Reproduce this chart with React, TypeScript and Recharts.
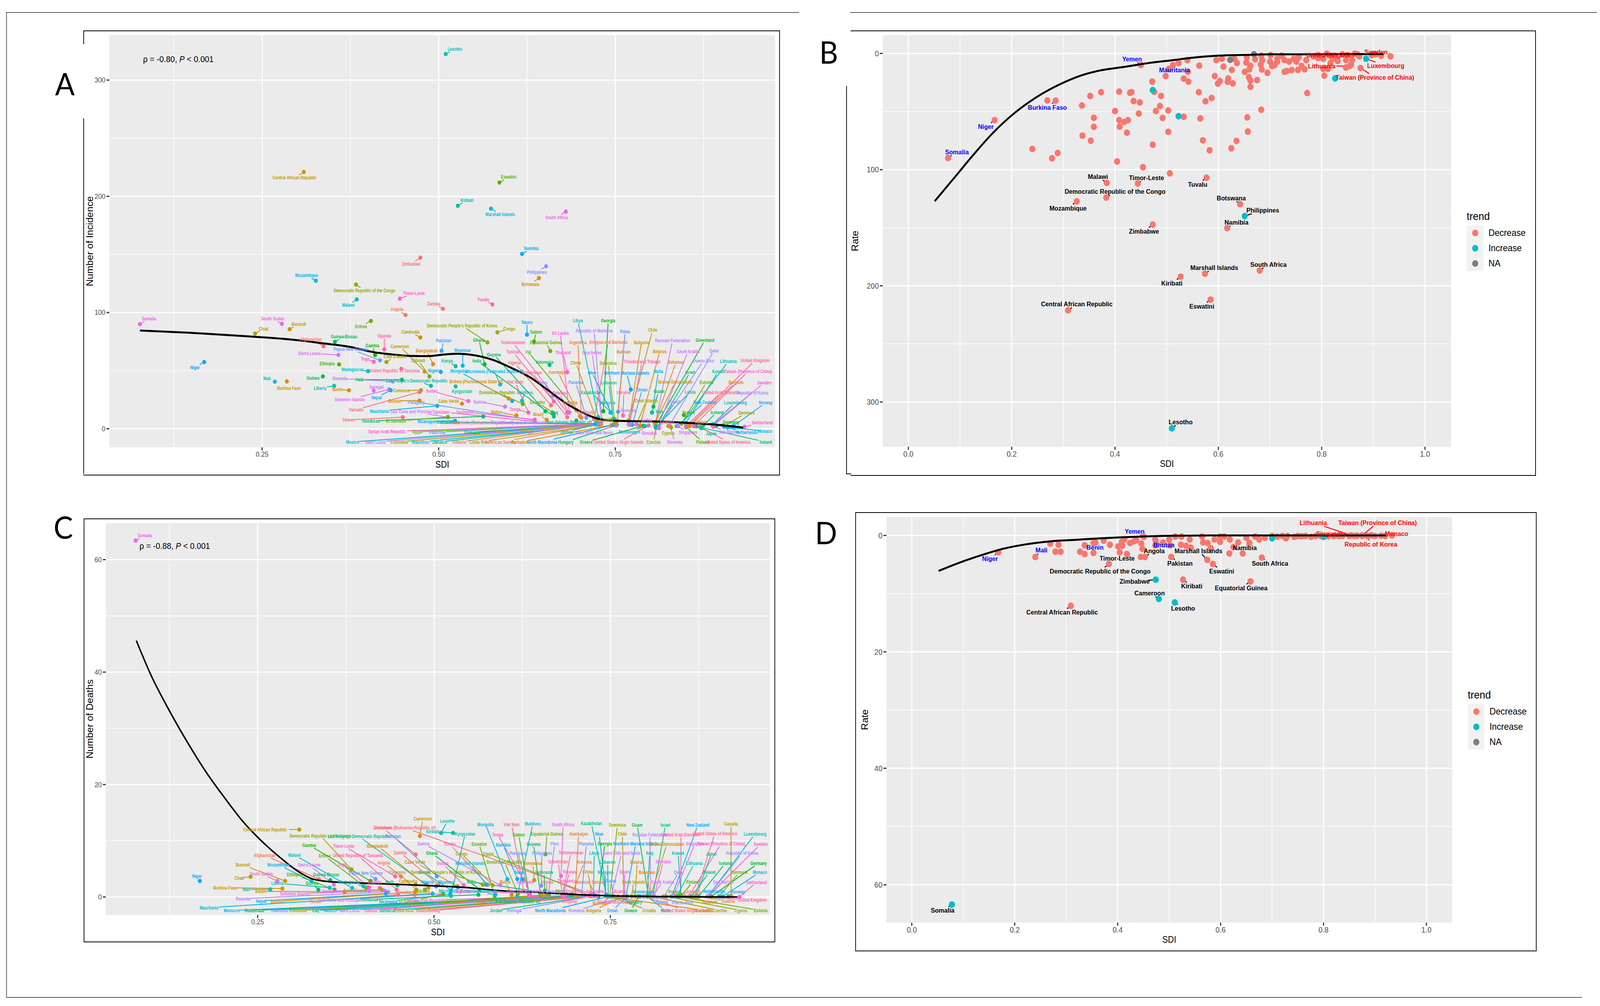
import React from "react";
import { ScatterChart, Scatter, XAxis, YAxis, CartesianGrid, ReferenceLine } from "recharts";

// name, sdi, incidence, label sdi, label value
const INCIDENCE_ROWS: [string, number, number, number, number][] = [
  ["Lesotho", 0.51, 322.4, 0.523, 326.7], ["Central African Republic", 0.309, 221, 0.296, 216], ["Eswatini", 0.586, 211.9, 0.599, 216.7],
  ["Kiribati", 0.527, 191.9, 0.54, 196.7], ["Marshall Islands", 0.574, 189.4, 0.587, 184.6], ["South Africa", 0.68, 186.9, 0.667, 181.8],
  ["Namibia", 0.618, 150.4, 0.631, 155.2], ["Philippines", 0.652, 139.8, 0.639, 134.8], ["Botswana", 0.642, 129.7, 0.63, 124.4],
  ["Zimbabwe", 0.474, 147.2, 0.461, 141.8], ["Mozambique", 0.326, 127.4, 0.313, 132], ["Democratic Republic of the Congo", 0.383, 124.1, 0.395, 119],
  ["Timor-Leste", 0.445, 112, 0.465, 116.6], ["Malawi", 0.384, 111.3, 0.372, 106.4], ["Zambia", 0.506, 103.2, 0.493, 107.7],
  ["Tuvalu", 0.576, 107, 0.563, 111.3], ["Angola", 0.453, 97.9, 0.441, 102.7], ["Somalia", 0.077, 90, 0.09, 94.8],
  ["South Sudan", 0.278, 90.3, 0.265, 94.8], ["Burundi", 0.289, 85.7, 0.302, 90], ["Chad", 0.24, 81.9, 0.252, 86.2],
  ["Eritrea", 0.404, 92.8, 0.39, 88], ["Guinea-Bissau", 0.353, 74.8, 0.366, 79.4], ["Afghanistan", 0.337, 71, 0.319, 77],
  ["Uganda", 0.423, 68.3, 0.423, 79.9], ["Cambodia", 0.474, 78.6, 0.46, 83.4], ["Gambia", 0.41, 63.5, 0.406, 71.6],
  ["Papua New Guinea", 0.417, 58.9, 0.375, 68.5], ["Sierra Leone", 0.358, 63.5, 0.317, 65], ["Togo", 0.408, 57.6, 0.396, 60.2],
  ["Cote d'Ivoire", 0.426, 57.4, 0.438, 62.2], ["Cameroon", 0.48, 49.3, 0.445, 71], ["Djibouti", 0.487, 45, 0.471, 58.9],
  ["Bangladesh", 0.492, 55.6, 0.483, 67.3], ["Ethiopia", 0.359, 55.4, 0.342, 56.1], ["Madagascar", 0.4, 49.6, 0.378, 51],
  ["United Republic of Tanzania", 0.447, 51.6, 0.438, 50], ["Niger", 0.168, 57.4, 0.155, 52.8], ["Mali", 0.268, 40.5, 0.257, 43.5],
  ["Burkina Faso", 0.285, 40.7, 0.288, 35.1], ["Guinea", 0.336, 45, 0.322, 43.7], ["Liberia", 0.352, 36.9, 0.332, 35.1],
  ["Benin", 0.373, 33.1, 0.357, 33.9], ["Rwanda", 0.435, 40.7, 0.36, 43.2], ["Haiti", 0.448, 42.2, 0.388, 42.2],
  ["Lao People's Democratic Republic", 0.489, 36.9, 0.469, 41.5], ["Senegal", 0.408, 32.9, 0.412, 35.9], ["Solomon Islands", 0.43, 33.9, 0.374, 25.3],
  ["Nepal", 0.432, 33.1, 0.412, 27], ["Comoros", 0.475, 33.1, 0.447, 32.9], ["Vanuatu", 0.473, 31.6, 0.383, 16.4],
  ["Bhutan", 0.473, 24.3, 0.438, 24], ["Paraguay", 0.636, 7.3, 0.468, 23], ["Mauritania", 0.498, 19.7, 0.416, 15.2],
  ["Sao Tome and Principe", 0.513, 9.9, 0.461, 14.9], ["Yemen", 0.449, 9.9, 0.372, 7.6], ["Honduras", 0.563, 10.6, 0.404, 6.6],
  ["El Salvador", 0.513, 10.1, 0.44, 6.6], ["Nicaragua", 0.523, 6.8, 0.483, 6.3], ["Guatemala", 0.724, 4.3, 0.516, 5.6],
  ["Syrian Arab Republic", 0.724, 4.3, 0.427, -2.5], ["Egypt", 0.722, 3.8, 0.47, -2.5], ["Palestine", 0.725, 4.6, 0.498, -3],
  ["Grenada", 0.726, 4, 0.547, -3], ["Turkey", 0.728, 5, 0.587, -2.5], ["Mexico", 0.722, 3.8, 0.378, -11.4],
  ["Saint Lucia", 0.723, 4, 0.41, -11.4], ["Colombia", 0.724, 4.2, 0.444, -11.4], ["Mauritius", 0.725, 3.6, 0.474, -11.4],
  ["Jamaica", 0.726, 4, 0.501, -11.4], ["Albania", 0.727, 4.4, 0.529, -11.4], ["Costa Rica", 0.728, 3.6, 0.557, -11.4],
  ["American Samoa", 0.73, 4, 0.587, -11.4], ["Barbados", 0.745, 3.2, 0.615, -11.4], ["North Macedonia", 0.748, 3.4, 0.646, -11.4],
  ["Hungary", 0.752, 3.2, 0.68, -11.4], ["Greece", 0.79, 2.6, 0.709, -11.4], ["United States Virgin Islands", 0.797, 2.8, 0.755, -11.4],
  ["Czechia", 0.808, 1, 0.804, -11.4], ["Slovenia", 0.828, 2, 0.834, -11.4], ["Finland", 0.85, 1.5, 0.874, -11.4],
  ["United States of America", 0.87, 1.5, 0.91, -11.4], ["Ireland", 0.865, 2, 0.963, -11.4],
  ["Democratic People's Republic of Korea", 0.569, 74.3, 0.533, 88.7], ["Congo", 0.583, 83, 0.6, 85.9], ["Nauru", 0.625, 81, 0.625, 91.9],
  ["Gabon", 0.635, 75, 0.638, 83.2], ["Equatorial Guinea", 0.658, 66.9, 0.652, 74.2], ["Ghana", 0.565, 55.5, 0.557, 76.4],
  ["Guyana", 0.651, 15.1, 0.578, 63.9], ["India", 0.663, 10.6, 0.554, 58.6], ["Kenya", 0.524, 53.8, 0.512, 58.5],
  ["Mongolia", 0.604, 23.9, 0.528, 49.6], ["Myanmar", 0.534, 54.3, 0.534, 67.6], ["Micronesia (Federated States of)", 0.587, 38.1, 0.579, 49.3],
  ["Nigeria", 0.503, 48.9, 0.494, 50], ["Pakistan", 0.504, 67.1, 0.507, 75.9], ["Bolivia (Plurinational State of)", 0.599, 26, 0.553, 40.7],
  ["Kyrgyzstan", 0.524, 36.4, 0.533, 32.2], ["Dominican Republic", 0.619, 21.3, 0.583, 31.4], ["Maldives", 0.618, 24.1, 0.622, 31.4],
  ["Viet Nam", 0.627, 14, 0.608, 40.3], ["Algeria", 0.659, 20.2, 0.607, 56.9], ["Tunisia", 0.663, 23.5, 0.605, 66.1],
  ["Turkmenistan", 0.682, 14, 0.605, 74.2], ["Fiji", 0.695, 16, 0.627, 65.9], ["Indonesia", 0.657, 54.9, 0.65, 57.4],
  ["Uzbekistan", 0.682, 10, 0.632, 48.5], ["Azerbaijan", 0.7, 10.6, 0.669, 48.7], ["Sri Lanka", 0.685, 14, 0.672, 82.4],
  ["Thailand", 0.682, 48.7, 0.676, 65.5], ["Argentina", 0.702, 9.5, 0.697, 74.2], ["Antigua and Barbuda", 0.72, 8.4, 0.74, 74.7],
  ["Libya", 0.726, 10, 0.697, 93], ["Georgia", 0.733, 15.1, 0.74, 93], ["Republic of Moldova", 0.731, 6.7, 0.72, 84.3],
  ["Palau", 0.754, 14.6, 0.764, 83.7], ["Chile", 0.769, 7.3, 0.803, 85], ["Bulgaria", 0.769, 3.9, 0.787, 74.3],
  ["Russian Federation", 0.807, 5.6, 0.831, 75.9], ["Greenland", 0.807, 2.2, 0.877, 76.2], ["Seychelles", 0.731, 7.8, 0.717, 65.5],
  ["Bahrain", 0.753, 6.7, 0.762, 66.1], ["Belarus", 0.785, 2.8, 0.813, 66.7], ["Saudi Arabia", 0.81, 1.1, 0.853, 66.7],
  ["Qatar", 0.826, 2.2, 0.89, 67.2], ["China", 0.724, 7.3, 0.694, 56.8], ["Dominica", 0.749, 8.4, 0.74, 56.4],
  ["Trinidad and Tobago", 0.77, 3.4, 0.788, 57.9], ["Bahamas", 0.806, 5, 0.836, 57.4], ["Puerto Rico", 0.811, 1.6, 0.875, 58.5],
  ["Lithuania", 0.844, 4.5, 0.91, 58], ["United Kingdom", 0.855, 3.4, 0.948, 58.8], ["Niue", 0.744, 14, 0.717, 48.5],
  ["Northern Mariana Islands", 0.772, 33.8, 0.766, 48.2], ["Malta", 0.802, 14, 0.811, 49.3], ["Israel", 0.81, 1.1, 0.856, 48.7],
  ["Kuwait", 0.85, 5, 0.896, 49.3], ["Taiwan (Province of China)", 0.861, 2.2, 0.938, 49.5], ["Peru", 0.662, 28.6, 0.648, 39.8],
  ["Panama", 0.709, 9.5, 0.694, 40], ["Lebanon", 0.747, 8.4, 0.741, 39.6], ["Brunei Darussalam", 0.807, 5.6, 0.835, 40.3],
  ["Estonia", 0.844, 4.5, 0.879, 40], ["Belgium", 0.855, 2.2, 0.921, 40], ["Sweden", 0.888, 3.4, 0.961, 39.7],
  ["Tokelau", 0.683, 14, 0.671, 31], ["Kazakhstan", 0.744, 14, 0.716, 31.1], ["Oman", 0.774, 3.4, 0.788, 33.6],
  ["Ukraine", 0.761, 11.4, 0.762, 31.4], ["Guam", 0.804, 19, 0.812, 32.2], ["Latvia", 0.807, 1.1, 0.856, 31.6],
  ["United Arab Emirates", 0.85, 2.2, 0.9, 31.4], ["Republic of Korea", 0.888, 2.2, 0.944, 31], ["Ecuador", 0.661, 14, 0.64, 22.7],
  ["Armenia", 0.695, 16, 0.686, 22.6], ["Malaysia", 0.743, 14, 0.739, 22.6], ["Cook Islands", 0.78, 3.9, 0.794, 24.1],
  ["Poland", 0.812, 0.6, 0.833, 23.3], ["New Zealand", 0.837, 2.2, 0.877, 22.9], ["Luxembourg", 0.888, 3.9, 0.92, 22.6],
  ["Norway", 0.917, 2.2, 0.963, 22.4], ["Samoa", 0.594, 19, 0.558, 23.3], ["Sudan", 0.542, 23.8, 0.49, 32.5],
  ["Cabo Verde", 0.533, 21.6, 0.514, 23.9], ["Tonga", 0.627, 14, 0.608, 16.8], ["Belize", 0.61, 11.4, 0.582, 14.6],
  ["Brazil", 0.653, 7.6, 0.641, 12.5], ["Iraq", 0.663, 12.6, 0.664, 14], ["Uruguay", 0.72, 8.4, 0.709, 14.3],
  ["Suriname", 0.636, 7.8, 0.537, 14.6], ["Tajikistan", 0.636, 6.2, 0.503, 14.6], ["Romania", 0.77, 4, 0.769, 15.7],
  ["Iceland", 0.875, 3.4, 0.894, 14.2], ["Italy", 0.802, 14, 0.813, 14.8], ["France", 0.847, 11.8, 0.854, 14.2],
  ["Denmark", 0.904, 2.2, 0.936, 13.7], ["Venezuela (Bolivarian Republic of)", 0.724, 4, 0.562, 5.3], ["Saint Vincent and the Grenadines", 0.724, 4, 0.616, 5.3],
  ["Iran (Islamic Republic of)", 0.695, 7, 0.685, 5.6], ["Serbia", 0.78, 3.9, 0.794, 7.3], ["Austria", 0.872, 0.6, 0.872, 5.6],
  ["Germany", 0.893, 2.8, 0.914, 5.6], ["Switzerland", 0.933, 1.7, 0.958, 5.3], ["Jordan", 0.724, 4, 0.681, -2.8],
  ["Saint Kitts and Nevis", 0.751, 2.8, 0.72, -3.4], ["Montenegro", 0.792, 2.2, 0.77, -2.8], ["Slovakia", 0.812, 0.6, 0.798, -3.6],
  ["Cyprus", 0.829, 1.1, 0.825, -3.6], ["Singapore", 0.839, 2.2, 0.853, -3.1], ["Japan", 0.872, 0.6, 0.886, -3.9],
  ["San Marino", 0.889, 1.7, 0.911, -2.8], ["Netherlands", 0.904, 1.7, 0.936, -3.1], ["Monaco", 0.909, 1.1, 0.962, -1.9],
  ["Andorra", 0.825, 2.2, 0.823, 5.6], ["Portugal", 0.724, 4, 0.623, -2.8], ["Morocco", 0.722, 4.4, 0.508, 5.6],
  ["Croatia", 0.749, 4.5, 0.738, 8],
];

// name, deaths, label sdi, label value (the sdi of a point comes from the rows above)
const DEATH_ROWS: [string, number, number, number][] = [
  ["Central African Republic", 12, 0.2605, 12], ["Somalia", 63.4, 0.09, 64.3], ["Cameroon", 10.85, 0.484, 13.9], ["Venezuela (Bolivarian Republic of)", 0.5, 0.459, 12.3],
  ["Zimbabwe", 7.55, 0.427, 12.3], ["Democratic Republic of the Congo", 4.9, 0.339, 10.9], ["Lao People's Democratic Republic", 2.2, 0.393, 10.8], ["Pakistan", 3.7, 0.442, 10.8],
  ["Gambia", 2.85, 0.323, 9.2], ["Timor-Leste", 3.66, 0.372, 9.1], ["Bangladesh", 1.7, 0.42, 9.1], ["Afghanistan", 3.15, 0.26, 7.4],
  ["Malawi", 1.6, 0.302, 7.5], ["Eritrea", 1.6, 0.345, 7.3], ["United Republic of Tanzania", 1.3, 0.392, 7.4], ["Burundi", 2.85, 0.229, 5.7],
  ["Mozambique", 2.85, 0.28, 5.7], ["Sierra Leone", 2.2, 0.323, 5.7], ["Togo", 1.7, 0.37, 5.8], ["Angola", 3.66, 0.429, 6.1],
  ["Cabo Verde", 1.9, 0.473, 6.2], ["Niger", 2.85, 0.164, 3.7], ["Chad", 3.6, 0.224, 3.4], ["South Sudan", 2.85, 0.255, 4.1],
  ["Ethiopia", 1.3, 0.302, 4], ["Guinea-Bissau", 3, 0.347, 4], ["Papua New Guinea", 3.2, 0.403, 4.3], ["Comoros", 1.3, 0.448, 4.4],
  ["Liberia", 1.65, 0.278, 2.45], ["Guinea", 1.3, 0.327, 2.5], ["Madagascar", 1.9, 0.38, 2.7], ["Uganda", 1.6, 0.416, 2.7],
  ["Haiti", 2.1, 0.437, 2.7], ["Cambodia", 2.2, 0.463, 2.8], ["Nigeria", 1.9, 0.491, 2.7], ["Kenya", 1.2, 0.486, 4.4],
  ["Burkina Faso", 1.5, 0.204, 1.65], ["Mali", 1.35, 0.234, 1.35], ["Benin", 0.9, 0.254, 1], ["Senegal", 1.1, 0.352, 1.1],
  ["Cote d'Ivoire", 1.3, 0.388, 1.15], ["Solomon Islands", 1.1, 0.303, 0.6], ["Rwanda", 0.9, 0.229, -0.3], ["Vanuatu", 0.4, 0.456, 0.9],
  ["Djibouti", 1.3, 0.484, 1], ["Nepal", 0.6, 0.255, -0.7], ["Bhutan", 0.9, 0.278, -0.8], ["Yemen", 0.4, 0.332, -0.8],
  ["Sao Tome and Principe", 0.6, 0.366, -0.5], ["Honduras", 0.4, 0.408, -0.46], ["Nicaragua", 0.5, 0.435, -0.8], ["El Salvador", 0.5, 0.465, -0.8],
  ["Syrian Arab Republic", 0.4, 0.489, -0.6], ["Mauritania", 0.6, 0.181, -1.9], ["Morocco", 0.3, 0.213, -2.4], ["Guatemala", 0.3, 0.245, -2.4],
  ["Palestine", 0.3, 0.281, -2.4], ["Colombia", 0.3, 0.307, -2.4], ["Iraq", 0.3, 0.332, -2.4], ["Mexico", 0.3, 0.353, -2.4],
  ["Saint Lucia", 0.3, 0.38, -2.4], ["Tunisia", 0.3, 0.41, -2.4], ["Jamaica", 0.3, 0.433, -2.4], ["Costa Rica", 0.3, 0.457, -2.4],
  ["Albania", 0.2, 0.484, -2.4], ["Turkey", 0.2, 0.5, -2.4], ["Jordan", 0.2, 0.588, -2.4], ["Portugal", 0.2, 0.614, -2.4],
  ["North Macedonia", 0.1, 0.665, -2.4], ["Romania", 0.1, 0.702, -2.4], ["Bulgaria", 0.1, 0.726, -2.4], ["Oman", 0.1, 0.753, -2.4],
  ["Greece", 0.1, 0.779, -2.4], ["Croatia", 0.1, 0.805, -2.4], ["Malta", 0.1, 0.828, -2.4], ["United States Virgin Islands", 0.1, 0.858, -2.4],
  ["Barbados", 0.1, 0.883, -2.4], ["Czechia", 0.1, 0.905, -2.4], ["Cyprus", 0.1, 0.935, -2.4], ["Estonia", 0.1, 0.963, -2.4],
  ["Lesotho", 11.4, 0.519, 13.5], ["Kiribati", 11.4, 0.498, 11.65], ["Mongolia", 3.15, 0.573, 12.9], ["Viet Nam", 1.1, 0.61, 12.9],
  ["Maldives", 0.2, 0.64, 13], ["South Africa", 3.73, 0.683, 12.9], ["Kazakhstan", 0.4, 0.723, 13.1], ["Dominica", 0.1, 0.76, 12.8],
  ["Guam", 0.1, 0.788, 12.8], ["Israel", 0.1, 0.828, 12.8], ["New Zealand", 0.1, 0.874, 12.8], ["Canada", 0.2, 0.921, 13],
  ["Tonga", 3, 0.59, 11.1], ["Gabon", 0.4, 0.62, 11.1], ["Equatorial Guinea", 7.6, 0.66, 11.2], ["Azerbaijan", 0.4, 0.705, 11.2],
  ["Kyrgyzstan", 0.2, 0.544, 11.2], ["Niue", 0.3, 0.734, 11.2], ["Chile", 0.2, 0.767, 11.2], ["Russian Federation", 0.1, 0.806, 11.1],
  ["United Arab Emirates", 0.1, 0.85, 11.1], ["United States of America", 0.1, 0.898, 11.3], ["Luxembourg", 0.1, 0.955, 11.2],
  ["Samoa", 2.1, 0.485, 9.5], ["Tuvalu", 2.2, 0.522, 9.4], ["Eswatini", 0.2, 0.564, 9.4], ["Namibia", 3.2, 0.598, 9.3],
  ["Guyana", 0.4, 0.641, 9.4], ["Peru", 0.2, 0.671, 9.5], ["Panama", 0.2, 0.716, 9.5], ["Georgia", 0.1, 0.742, 9.5],
  ["Northern Mariana Islands", 0.1, 0.786, 9.5], ["Brunei Darussalam", 0.1, 0.83, 9.4], ["Singapore", 0.1, 0.87, 9.5], ["Taiwan (Province of China)", 0.1, 0.907, 9.5],
  ["Sweden", 0.1, 0.963, 9.4], ["Ghana", 1.3, 0.497, 7.8], ["Congo", 2.1, 0.539, 7.7], ["Egypt", 0.2, 0.577, 7.7],
  ["Paraguay", 0.2, 0.619, 7.8], ["Philippines", 2, 0.653, 7.8], ["Turkmenistan", 0.2, 0.694, 7.9], ["Libya", 0.4, 0.727, 7.8],
  ["Saint Kitts and Nevis", 0.1, 0.766, 7.8], ["Italy", 0.2, 0.806, 7.8], ["Kuwait", 0.2, 0.846, 7.8], ["Japan", 0.2, 0.893, 7.7],
  ["Republic of Korea", 0.1, 0.937, 7.8], ["Sudan", 2.1, 0.512, 6], ["Marshall Islands", 2.2, 0.551, 6], ["Dominican Republic", 0.6, 0.6, 6.2],
  ["Botswana", 3, 0.64, 6], ["Uzbekistan", 0.2, 0.676, 6.3], ["Armenia", 0.2, 0.713, 6.2], ["Lebanon", 0.2, 0.746, 6.2],
  ["Belarus", 0.1, 0.788, 6.2], ["Slovakia", 0.1, 0.825, 6.3], ["Lithuania", 0.1, 0.869, 6], ["Iceland", 0.1, 0.913, 6],
  ["Germany", 0.1, 0.96, 6], ["Democratic People's Republic of Korea", 2.2, 0.517, 4.4], ["Nauru", 3.2, 0.622, 4.4], ["Indonesia", 1.1, 0.656, 4.4],
  ["Tokelau", 0.2, 0.692, 4.5], ["China", 0.2, 0.718, 4.5], ["Malaysia", 0.2, 0.743, 4.4], ["Spain", 0.1, 0.77, 4.5],
  ["Bahamas", 0.1, 0.802, 4.4], ["Qatar", 0.1, 0.847, 4.4], ["Ireland", 0.1, 0.89, 4.4], ["Denmark", 0.1, 0.933, 4.4],
  ["Monaco", 0.1, 0.962, 4.4], ["Myanmar", 1.7, 0.518, 2.7], ["India", 0.65, 0.553, 2.7], ["Belize", 0.4, 0.601, 2.7],
  ["Suriname", 0.2, 0.629, 2.7], ["Algeria", 0.4, 0.66, 2.7], ["Thailand", 0.4, 0.686, 2.85], ["American Samoa", 0.2, 0.719, 2.7],
  ["Palau", 0.2, 0.751, 2.85], ["Cook Islands", 0.1, 0.783, 2.7], ["Saudi Arabia", 0.1, 0.824, 2.7], ["Finland", 0.2, 0.867, 2.7],
  ["San Marino", 0.2, 0.91, 2.7], ["Switzerland", 0, 0.957, 2.6], ["Micronesia (Federated States of)", 0.4, 0.548, 1.1], ["Tajikistan", 0.65, 0.542, 1],
  ["Saint Vincent and the Grenadines", 0.3, 0.645, 1], ["Fiji", 0.5, 0.676, 1], ["Sri Lanka", 0.3, 0.699, 1.1], ["Seychelles", 0.2, 0.73, 1],
  ["Ukraine", 0.1, 0.762, 1], ["Montenegro", 0.1, 0.797, 0.95], ["France", 0.1, 0.841, 0.95], ["Andorra", 0.1, 0.868, 0.95],
  ["Netherlands", 0.1, 0.897, 1], ["Norway", 0.1, 0.931, 0.95], ["Bahrain", 0.2, 0.735, -1.1], ["Trinidad and Tobago", 0.1, 0.757, -0.9],
  ["Hungary", 0.1, 0.784, -0.9], ["Poland", 0.1, 0.823, -0.9], ["Puerto Rico", 0.1, 0.852, -1], ["Belgium", 0.1, 0.891, -0.9],
  ["Austria", 0.1, 0.917, -0.7], ["United Kingdom", 0.1, 0.951, -0.5], ["Ecuador", 0.4, 0.524, -0.75], ["Brazil", 0.3, 0.567, -0.75],
  ["Iran (Islamic Republic of)", 0.3, 0.619, -0.8], ["Uruguay", 0.2, 0.692, -0.75], ["Zambia", 2.2, 0.452, 7.9],
];

const INCIDENCE_CURVE = [[0.077, 84.5], [0.145, 82.7], [0.211, 80.2], [0.243, 79], [0.289, 76.9], [0.335, 73.6], [0.374, 70.5], [0.407, 66], [0.433, 64], [0.459, 62.7], [0.486, 62.5], [0.505, 63.7], [0.525, 64.5], [0.551, 63.2], [0.577, 59.2], [0.603, 52.3], [0.63, 44], [0.656, 32.6], [0.682, 21.2], [0.702, 14.4], [0.721, 9.4], [0.741, 7.1], [0.767, 6.6], [0.806, 6.3], [0.846, 5.3], [0.885, 3.8], [0.931, 1]];
const DEATH_CURVE = [[0.078, 45.6], [0.099, 39.4], [0.125, 33.1], [0.151, 27.4], [0.177, 22.2], [0.204, 17.5], [0.23, 13.3], [0.256, 9.9], [0.282, 7], [0.308, 4.5], [0.328, 3.2], [0.354, 2.7], [0.393, 2.5], [0.446, 2.25], [0.498, 2], [0.544, 1.7], [0.59, 1.15], [0.642, 0.85], [0.707, 0.4], [0.773, 0.15], [0.838, 0.05], [0.93, 0]];
const RATE_B_CURVE = [[0.051, 127.2], [0.089, 107], [0.127, 86.7], [0.164, 68.3], [0.202, 52.6], [0.249, 37.4], [0.296, 26], [0.333, 19.2], [0.371, 14.7], [0.418, 11.6], [0.465, 8.3], [0.512, 5.8], [0.559, 3.3], [0.596, 2], [0.653, 1.3], [0.7, 0.8], [0.793, 0.8], [0.92, 0.5]];
const RATE_D_CURVE = [[0.052, 6.1], [0.092, 4.7], [0.135, 3.4], [0.177, 2.3], [0.224, 1.5], [0.271, 1], [0.319, 0.75], [0.366, 0.5], [0.413, 0.3], [0.46, 0.15], [0.507, 0.05], [0.601, 0], [0.922, 0]];

const RATE_B_DECREASE = [[0.269, 40.5], [0.352, 36.7], [0.373, 33.4], [0.408, 32.9], [0.429, 33.9], [0.432, 33.4], [0.436, 41], [0.448, 42.2], [0.336, 44.8], [0.4, 49.6], [0.446, 51.8], [0.476, 33.1], [0.489, 36.7], [0.487, 45.3], [0.479, 49.6], [0.503, 49.1], [0.359, 55.4], [0.408, 57.4], [0.418, 58.9], [0.425, 57.4], [0.492, 55.6], [0.533, 54.6], [0.565, 55.9], [0.359, 63.2], [0.409, 63], [0.423, 68.3], [0.337, 70.8], [0.353, 75.1], [0.503, 67.5], [0.473, 78.6], [0.24, 82.2], [0.289, 85.7], [0.278, 90.3], [0.404, 93], [0.454, 97.9], [0.506, 103.2], [0.57, 74.8], [0.583, 83.4], [0.625, 81.7], [0.635, 75.3], [0.657, 67.3], [0.656, 55.1], [0.683, 48.5], [0.587, 38.4], [0.575, 41.2], [0.562, 33.4], [0.599, 26], [0.603, 23.8], [0.618, 24.5], [0.619, 21.5], [0.628, 25.8], [0.593, 19.5], [0.542, 24.3], [0.533, 21.7], [0.472, 24.3], [0.498, 19.5], [0.563, 10.6], [0.596, 5.8], [0.607, 4.6], [0.61, 11.4], [0.626, 14.2], [0.636, 8.3], [0.631, 4.6], [0.651, 15.9], [0.659, 20.5], [0.662, 23.3], [0.675, 23], [0.662, 28.8], [0.66, 13.7], [0.662, 10.6], [0.654, 7.8], [0.655, 3.3], [0.671, 5.1], [0.683, 2], [0.682, 9.6], [0.684, 13.9], [0.695, 16.7], [0.7, 7.1], [0.701, 1.5], [0.709, 10.1], [0.714, 4.6], [0.728, 15.9], [0.732, 15.2], [0.742, 14.4], [0.754, 14.2], [0.767, 13.7], [0.761, 10.9], [0.728, 5.8], [0.746, 4.6], [0.751, 7.1], [0.77, 5.8], [0.772, 34.1], [0.805, 19.2], [0.803, 13.4], [0.812, 13.4], [0.817, 8.3], [0.831, 6.6], [0.847, 12.1], [0.857, 9.6], [0.847, 5.8], [0.859, 5.8], [0.803, 4.6], [0.793, 1.5], [0.81, 0.3], [0.826, 2], [0.84, 0.8], [0.864, 0.3], [0.873, 2.5], [0.915, 2], [0.933, 2.5], [0.869, 0.8], [0.85, 1.5], [0.784, 2.5], [0.756, 3.3], [0.54, 5.8], [0.523, 8.3], [0.512, 10.1], [0.504, 13.4], [0.714, 7.1], [0.723, 2], [0.737, 7.1], [0.793, 4], [0.822, 4.6], [0.897, 1.5], [0.704, 10.9], [0.685, 5.8], [0.9, 0.5], [0.82, 3]];
const RATE_B_INCREASE = [[0.826, 21.5], [0.473, 31.6], [0.523, 54.1]];
const RATE_B_MISSING = [[0.623, 5.6], [0.669, 0.8]];

const RATE_D_DECREASE = [[0.269, 1.4], [0.285, 1.6], [0.279, 2.8], [0.289, 2.8], [0.327, 2.8], [0.336, 3.2], [0.353, 3], [0.404, 2.9], [0.445, 3.7], [0.353, 1.3], [0.357, 1.2], [0.373, 0.9], [0.385, 1.6], [0.401, 1.9], [0.408, 1.1], [0.409, 1.8], [0.424, 1.3], [0.432, 1], [0.436, 0.8], [0.446, 1.4], [0.448, 2.3], [0.473, 0.7], [0.473, 1.7], [0.488, 1.2], [0.5, 0.7], [0.502, 1.7], [0.512, 0.2], [0.523, 1.6], [0.524, 0.2], [0.533, 1.8], [0.54, 0.7], [0.542, 2.1], [0.564, 0.2], [0.566, 1.2], [0.575, 1.3], [0.581, 2.2], [0.588, 0.7], [0.599, 1.1], [0.599, 0.2], [0.607, 0.2], [0.618, 0.7], [0.617, 3.1], [0.643, 3.1], [0.634, 1.2], [0.656, 1.3], [0.65, 0.4], [0.667, 0.2], [0.675, 0.7], [0.686, 0.4], [0.71, 0.2], [0.727, 0.5], [0.743, 0.25], [0.757, 0.15], [0.776, 0.25], [0.809, 0.15], [0.837, 0.05], [0.865, 0.05], [0.893, 0], [0.912, 0.05], [0.413, 0.7], [0.7, 0.1], [0.72, 0.1], [0.73, 0.1], [0.75, 0.1], [0.765, 0.1], [0.785, 0.1], [0.795, 0.1], [0.82, 0.1], [0.83, 0.1], [0.85, 0.1], [0.86, 0.1], [0.875, 0.1], [0.885, 0.1], [0.9, 0.1], [0.92, 0.1]];
const RATE_D_INCREASE = [[0.7, 0.5], [0.8, 0.25]];

// name, sdi, rate, label sdi, label rate, trend
type RateRow = [string, number, number, number, number, string];
const RATE_B_BLUE: RateRow[] = [
  ["Somalia", 0.077, 90, 0.094, 84.7, "D"], ["Niger", 0.167, 57.4, 0.15, 63, "D"], ["Burkina Faso", 0.285, 40.7, 0.269, 46.3, "D"],
  ["Mauritania", 0.541, 15.9, 0.515, 14.2, "D"], ["Yemen", 0.45, 9.9, 0.433, 4.6, "D"],
];
const RATE_B_BLACK: RateRow[] = [
  ["Malawi", 0.384, 111.5, 0.367, 105.9, "D"], ["Timor-Leste", 0.444, 112, 0.461, 107, "D"], ["Tuvalu", 0.577, 107, 0.56, 112.5, "D"],
  ["Democratic Republic of the Congo", 0.383, 124.1, 0.4, 118.8, "D"], ["Mozambique", 0.326, 127.4, 0.309, 133, "D"], ["Botswana", 0.642, 129.7, 0.625, 124.4, "D"],
  ["Philippines", 0.651, 140, 0.686, 134.8, "I"], ["Namibia", 0.617, 150.4, 0.635, 145.4, "D"], ["Zimbabwe", 0.473, 147.4, 0.456, 153, "D"],
  ["Marshall Islands", 0.574, 189.6, 0.592, 184.3, "D"], ["South Africa", 0.68, 186.9, 0.697, 181.5, "D"], ["Kiribati", 0.527, 192.2, 0.51, 197.7, "D"],
  ["Eswatini", 0.585, 211.9, 0.568, 217.4, "D"], ["Central African Republic", 0.309, 221.2, 0.326, 215.7, "D"], ["Lesotho", 0.51, 322.6, 0.527, 317, "I"],
];
const RATE_B_RED: RateRow[] = [
  ["Sweden", 0.905, 0.8, 0.905, -1.3, "D"], ["United Kingdom", 0.816, 2, 0.816, 1.5, "D"], ["Lithuania", 0.854, 10.9, 0.8, 10.9, "D"],
  ["Luxembourg", 0.886, 4.6, 0.924, 10.6, "I"], ["Taiwan (Province of China)", 0.875, 12.6, 0.903, 20.5, "D"],
];
const RATE_D_BLUE: RateRow[] = [
  ["Yemen", 0.451, 0.25, 0.433, -0.75, "D"], ["Niger", 0.168, 2.9, 0.152, 4, "D"], ["Mali", 0.24, 3.7, 0.252, 2.5, "D"],
  ["Benin", 0.336, 1.7, 0.356, 2, "D"], ["Bhutan", 0.474, 0.9, 0.49, 1.6, "D"],
];
const RATE_D_BLACK: RateRow[] = [
  ["Angola", 0.453, 3.7, 0.471, 2.6, "D"], ["Marshall Islands", 0.574, 4.2, 0.557, 2.6, "D"], ["Namibia", 0.625, 2, 0.647, 2.1, "D"],
  ["Timor-Leste", 0.418, 3.2, 0.399, 3.9, "D"], ["Pakistan", 0.504, 3.7, 0.521, 4.8, "D"], ["South Africa", 0.68, 3.8, 0.696, 4.8, "D"],
  ["Eswatini", 0.585, 4.9, 0.602, 6.1, "D"], ["Democratic Republic of the Congo", 0.383, 4.9, 0.366, 6.1, "D"], ["Zimbabwe", 0.474, 7.6, 0.433, 7.9, "I"],
  ["Kiribati", 0.527, 7.6, 0.544, 8.7, "D"], ["Equatorial Guinea", 0.658, 7.9, 0.64, 9, "D"], ["Cameroon", 0.48, 10.9, 0.462, 9.9, "I"],
  ["Lesotho", 0.511, 11.5, 0.527, 12.5, "I"], ["Central African Republic", 0.309, 12.1, 0.292, 13.2, "D"], ["Somalia", 0.078, 63.4, 0.06, 64.4, "I"],
];
const RATE_D_RED: RateRow[] = [
  ["Lithuania", 0.854, 0, 0.78, -2.2, "D"], ["Taiwan (Province of China)", 0.875, 0, 0.905, -2.2, "D"], ["Singapore", 0.83, 0, 0.815, -0.35, "D"],
  ["Monaco", 0.933, 0, 0.942, -0.35, "D"], ["Republic of Korea", 0.885, 0.1, 0.892, 1.5, "D"],
];

const TREND_NAMES = ["Decrease", "Increase", "NA"];
const TREND_COLORS: Record<string, string> = { D: "#F8766D", I: "#00BFC4", N: "#7F7F7F" };
const FONT = "'Liberation Sans', Arial, sans-serif";

// the photographed page comes out 4096 wide, so the whole sheet is narrowed to fit
const FIT_X = 4096 / 4417;

// ggplot's default hue palette, hcl(h, 100, 65)
function hueColor(h: number) {
  const L = 65, C = 100;
  const u = C * Math.cos((h * Math.PI) / 180), v = C * Math.sin((h * Math.PI) / 180);
  const Y = Math.pow((L + 16) / 116, 3);
  const up = u / (13 * L) + 0.19783, vp = v / (13 * L) + 0.46832;
  const X = (9 * Y * up) / (4 * vp), Z = ((12 - 3 * up - 20 * vp) * Y) / (4 * vp);
  const lin = [3.2406 * X - 1.5372 * Y - 0.4986 * Z, -0.9689 * X + 1.8758 * Y + 0.0415 * Z, 0.0557 * X - 0.204 * Y + 1.057 * Z];
  const hex = lin.map((c) => {
    const s = c <= 0.0031308 ? 12.92 * c : 1.055 * Math.pow(Math.max(c, 0), 1 / 2.4) - 0.055;
    return Math.round(Math.min(1, Math.max(0, s)) * 255).toString(16).padStart(2, "0");
  });
  return "#" + hex.join("");
}

const allNames = Array.from(new Set([...INCIDENCE_ROWS.map((r) => r[0]), ...DEATH_ROWS.map((r) => r[0])])).sort((a, b) => a.localeCompare(b));
const countryColor = (name: string) => hueColor(15 + (360 * allNames.indexOf(name)) / allNames.length);
const sdiOf = (name: string, fallback: number) => {
  const row = INCIDENCE_ROWS.find((r) => r[0] === name);
  return row ? row[1] : fallback;
};

type Mark = { name: string; sdi: number; value: number; lx: number; ly: number; color: string; textColor: string; trend?: string };

const asPoints = (rows: number[][]) => rows.map((r) => ({ x: r[0], y: r[1] }));
const rateMarks = (rows: RateRow[], textColor: string): Mark[] =>
  rows.map((r) => ({ name: r[0], sdi: r[1], value: r[2], lx: r[3], ly: r[4], color: TREND_COLORS[r[5]], textColor, trend: r[5] }));

const incidenceMarks: Mark[] = INCIDENCE_ROWS.map((r) => {
  const color = countryColor(r[0]);
  return { name: r[0], sdi: r[1], value: r[2], lx: r[3], ly: r[4], color, textColor: color };
});
const deathMarks: Mark[] = DEATH_ROWS.map((r) => {
  const color = countryColor(r[0]);
  return { name: r[0], sdi: sdiOf(r[0], r[2]), value: r[1], lx: r[2], ly: r[3], color, textColor: color };
});

type PanelProps = {
  plot: { left: number; top: number; right: number; bottom: number };
  xDomain: [number, number]; yDomain: [number, number];
  xTicks: number[]; xMinor: number[]; yTicks: number[]; yMinor: number[];
  xFormat: (v: number) => string;
  yTitle: string; titleGap: number; reversed?: boolean; tickFont: number;
  curve: number[][]; curveWidth: number;
  marks: Mark[]; extraPoints?: { rows: number[][]; color: string }[];
  radius: number; fontSize: number; squeeze: number; leaderWidth: number; minGap: number;
};

function Panel(p: PanelProps) {
  const pad = 110, foot = 80;
  const plotW = p.plot.right - p.plot.left, plotH = p.plot.bottom - p.plot.top;
  const pxX = plotW / (p.xDomain[1] - p.xDomain[0]), pxY = plotH / (p.yDomain[1] - p.yDomain[0]);
  const charW = p.fontSize * 0.53 * p.squeeze, halfH = p.fontSize * 0.55;

  // a leader runs from the edge of the label box to the point
  const leaders = p.marks.flatMap((m) => {
    const dx = (m.sdi - m.lx) * pxX, dy = (m.value - m.ly) * pxY;
    const t = Math.min(Math.abs(dx) > 0 ? ((charW * m.name.length) / 2) / Math.abs(dx) : 99, Math.abs(dy) > 0 ? halfH / Math.abs(dy) : 99);
    if (t >= 1 || (1 - t) * Math.hypot(dx, dy) < p.minGap) return [];
    return [{ ...m, sx: m.lx + (m.sdi - m.lx) * t, sy: m.ly + (m.value - m.ly) * t }];
  });
  const dot = (d: any) => <circle cx={d.cx} cy={d.cy} r={p.radius} fill={d.payload.color} />;
  const word = (d: any) => (
    <text
      transform={`translate(${d.cx} ${d.cy}) scale(${p.squeeze} 1)`}
      textAnchor="middle" dominantBaseline="central"
      fontFamily={FONT} fontWeight="bold" fontSize={p.fontSize} fill={d.payload.textColor}
    >
      {d.payload.name}
    </text>
  );

  return (
    <div style={{ position: "absolute", left: p.plot.left - pad, top: p.plot.top - 4 }}>
      <ScatterChart width={plotW + pad + 4} height={plotH + 4 + foot} margin={{ top: 4, right: 4, left: 0, bottom: 0 }}>
        <CartesianGrid fill="#EBEBEB" stroke="#FFFFFF" strokeWidth={1.5} horizontalValues={p.yMinor} verticalValues={p.xMinor} />
        <CartesianGrid stroke="#FFFFFF" strokeWidth={3} horizontalValues={p.yTicks} verticalValues={p.xTicks} />
        <XAxis
          type="number" dataKey="x" domain={p.xDomain} ticks={p.xTicks} interval={0} height={foot}
          axisLine={false} tickLine={{ stroke: "#333333", strokeWidth: 3 }} tickSize={8} tickMargin={3}
          tickFormatter={p.xFormat} tick={{ fill: "#4D4D4D", fontSize: p.tickFont, fontFamily: FONT }}
          label={{ value: "SDI", content: (l: any) => (
            <text x={l.viewBox.x + l.viewBox.width / 2} y={l.viewBox.y + 44} textAnchor="middle" dominantBaseline="central" fontFamily={FONT} fontSize={23} fill="#000">SDI</text>
          ) }}
        />
        <YAxis
          type="number" dataKey="y" domain={p.yDomain} ticks={p.yTicks} interval={0} width={pad} reversed={p.reversed}
          axisLine={false} tickLine={{ stroke: "#333333", strokeWidth: 3 }} tickSize={8} tickMargin={3}
          tick={{ fill: "#4D4D4D", fontSize: p.tickFont, fontFamily: FONT }}
          label={{ value: p.yTitle, content: (l: any) => {
            const cx = l.viewBox.x + pad - p.titleGap, cy = l.viewBox.y + l.viewBox.height / 2;
            return <text transform={`translate(${cx} ${cy}) rotate(-90)`} textAnchor="middle" dominantBaseline="central" fontFamily={FONT} fontSize={25} fill="#000">{p.yTitle}</text>;
          } }}
        />
        {leaders.map((m, i) => (
          <ReferenceLine
            key={i} ifOverflow="visible" stroke={m.textColor} strokeWidth={p.leaderWidth}
            segment={[{ x: m.sx, y: m.sy }, { x: m.sdi, y: m.value }]}
          />
        ))}
        {(p.extraPoints || []).map((g, i) => (
          <Scatter key={i} isAnimationActive={false} data={asPoints(g.rows).map((d) => ({ ...d, color: g.color }))} shape={dot} />
        ))}
        <Scatter isAnimationActive={false} data={p.marks.map((m) => ({ x: m.sdi, y: m.value, color: m.color }))} shape={dot} />
        <Scatter
          isAnimationActive={false} data={asPoints(p.curve)} shape={() => <g />}
          line={{ stroke: "#000000", strokeWidth: p.curveWidth }} lineType="joint" lineJointType="monotoneX"
        />
        <Scatter
          isAnimationActive={false} shape={word}
          data={p.marks.map((m) => ({ x: m.lx, y: m.ly, name: m.name, textColor: m.textColor }))}
        />
      </ScatterChart>
    </div>
  );
}

function Box({ left, top, right, bottom, sides }: { left: number; top: number; right: number; bottom: number; sides?: string }) {
  const s = sides || "trbl";
  const line = "2px solid #000";
  return (
    <div style={{
      position: "absolute", left, top, width: right - left, height: bottom - top,
      borderTop: s.includes("t") ? line : "none", borderRight: s.includes("r") ? line : "none",
      borderBottom: s.includes("b") ? line : "none", borderLeft: s.includes("l") ? line : "none",
    }} />
  );
}

function Letter({ text, left, top }: { text: string; left: number; top: number }) {
  return <div style={{ position: "absolute", left, top, fontFamily: "Lato, sans-serif", fontSize: 80, lineHeight: "80px", color: "#000" }}>{text}</div>;
}

function Rho({ text, left, top }: { text: string; left: number; top: number }) {
  return (
    <div style={{ position: "absolute", left, top, fontFamily: FONT, fontSize: 22, lineHeight: "26px", color: "#000", whiteSpace: "pre" }}>
      {text}, <i>P</i> {"< 0.001"}
    </div>
  );
}

function TrendKey({ left, top }: { left: number; top: number }) {
  return (
    <div style={{ position: "absolute", left, top, fontFamily: FONT, color: "#000" }}>
      <div style={{ fontSize: 28, lineHeight: "34px", height: 40 }}>trend</div>
      <div style={{ width: 46, background: "#F2F2F2" }}>
        {TREND_NAMES.map((t, i) => (
          <div key={t} style={{ height: 39, position: "relative" }}>
            <span style={{ position: "absolute", left: 15, top: 11, width: 17, height: 17, borderRadius: 9, background: TREND_COLORS["DIN"[i]] }} />
            <span style={{ position: "absolute", left: 60, top: 5, fontSize: 24, lineHeight: "28px" }}>{t}</span>
          </div>
        ))}
      </div>
    </div>
  );
}

const SDI_TICKS_WIDE = [0.25, 0.5, 0.75];
const SDI_MINOR_WIDE = [0.125, 0.375, 0.625, 0.875];
const SDI_TICKS_FULL = [0, 0.2, 0.4, 0.6, 0.8, 1];
const SDI_MINOR_FULL = [0.1, 0.3, 0.5, 0.7, 0.9];

export default function App() {
  return (
    <div style={{ width: 4096, height: 2575, margin: -8, overflow: "hidden", background: "#FFFFFF" }}>
      <div style={{ position: "relative", width: 4417, height: 2575, transform: `scaleX(${FIT_X})`, transformOrigin: "0 0" }}>
        {/* outer frame */}
        <div style={{ position: "absolute", left: 17, top: 31, width: 2189, height: 2, background: "#555" }} />
        <div style={{ position: "absolute", left: 2347, top: 31, width: 2070, height: 2, background: "#555" }} />
        <div style={{ position: "absolute", left: 17, top: 31, width: 2, height: 2521, background: "#555" }} />
        <div style={{ position: "absolute", left: 17, top: 2552, width: 4350, height: 2, background: "#555" }} />

        {/* panel frames */}
        <Box left={230} top={78} right={2151} bottom={1213} sides="trb" />
        <div style={{ position: "absolute", left: 230, top: 78, width: 2, height: 35, background: "#000" }} />
        <div style={{ position: "absolute", left: 230, top: 303, width: 2, height: 910, background: "#000" }} />
        <Box left={2348} top={78} right={4238} bottom={1214} sides="trb" />
        <div style={{ position: "absolute", left: 2336, top: 220, width: 2, height: 994, background: "#000" }} />
        <div style={{ position: "absolute", left: 2336, top: 1212, width: 14, height: 2, background: "#000" }} />
        <Box left={231} top={1327} right={2136} bottom={2408} />
        <Box left={2361} top={1311} right={4238} bottom={2431} />

        <Letter text="A" left={152} top={173} />
        <Letter text="B" left={2262} top={92} />
        <Letter text="C" left={148} top={1308} />
        <Letter text="D" left={2250} top={1322} />

        <Panel
          plot={{ left: 302, top: 90, right: 2140, bottom: 1145 }} xDomain={[0.0338, 0.9764]} yDomain={[-16, 338.7]}
          xTicks={SDI_TICKS_WIDE} xMinor={SDI_MINOR_WIDE} yTicks={[0, 100, 200, 300]} yMinor={[50, 150, 250]}
          xFormat={(v) => v.toFixed(2)} yTitle="Number of Incidence" titleGap={54} tickFont={18}
          curve={INCIDENCE_CURVE} curveWidth={5} marks={incidenceMarks}
          radius={5.5} fontSize={13} squeeze={0.8} leaderWidth={2.2} minGap={12}
        />
        <Rho text="ρ = -0.80" left={395} top={139} />

        <Panel
          plot={{ left: 2437, top: 90, right: 4006, bottom: 1143.5 }} xDomain={[-0.0495, 1.0505]} yDomain={[-15.7, 338.5]} reversed
          xTicks={SDI_TICKS_FULL} xMinor={SDI_MINOR_FULL} yTicks={[0, 100, 200, 300]} yMinor={[50, 150, 250]}
          xFormat={(v) => v.toFixed(1)} yTitle="Rate" titleGap={77} tickFont={20}
          curve={RATE_B_CURVE} curveWidth={5}
          marks={[...rateMarks(RATE_B_BLUE, "#0000FF"), ...rateMarks(RATE_B_BLACK, "#000000"), ...rateMarks(RATE_B_RED, "#FF0000")]}
          extraPoints={[
            { rows: RATE_B_DECREASE, color: TREND_COLORS.D },
            { rows: RATE_B_INCREASE, color: TREND_COLORS.I },
            { rows: RATE_B_MISSING, color: TREND_COLORS.N },
          ]}
          radius={8.5} fontSize={17} squeeze={1} leaderWidth={2.5} minGap={10}
        />
        <TrendKey left={4049} top={537} />

        <Panel
          plot={{ left: 292, top: 1339, right: 2126, bottom: 2342 }} xDomain={[0.0347, 0.9764]} yDomain={[-3.2, 66.5]}
          xTicks={SDI_TICKS_WIDE} xMinor={SDI_MINOR_WIDE} yTicks={[0, 20, 40, 60]} yMinor={[10, 30, 50]}
          xFormat={(v) => v.toFixed(2)} yTitle="Number of Deaths" titleGap={44} tickFont={18}
          curve={DEATH_CURVE} curveWidth={4} marks={deathMarks}
          radius={5.5} fontSize={13} squeeze={0.8} leaderWidth={2.2} minGap={12}
        />
        <Rho text="ρ = -0.88" left={385} top={1385} />

        <Panel
          plot={{ left: 2447, top: 1323, right: 4009, bottom: 2361.5 }} xDomain={[-0.0493, 1.05]} yDomain={[-3.19, 66.5]} reversed
          xTicks={SDI_TICKS_FULL} xMinor={SDI_MINOR_FULL} yTicks={[0, 20, 40, 60]} yMinor={[10, 30, 50]}
          xFormat={(v) => v.toFixed(1)} yTitle="Rate" titleGap={60} tickFont={20}
          curve={RATE_D_CURVE} curveWidth={5}
          marks={[...rateMarks(RATE_D_BLUE, "#0000FF"), ...rateMarks(RATE_D_BLACK, "#000000"), ...rateMarks(RATE_D_RED, "#FF0000")]}
          extraPoints={[
            { rows: RATE_D_DECREASE, color: TREND_COLORS.D },
            { rows: RATE_D_INCREASE, color: TREND_COLORS.I },
          ]}
          radius={8.5} fontSize={17} squeeze={1} leaderWidth={2.5} minGap={10}
        />
        <TrendKey left={4052} top={1762} />
      </div>
    </div>
  );
}
